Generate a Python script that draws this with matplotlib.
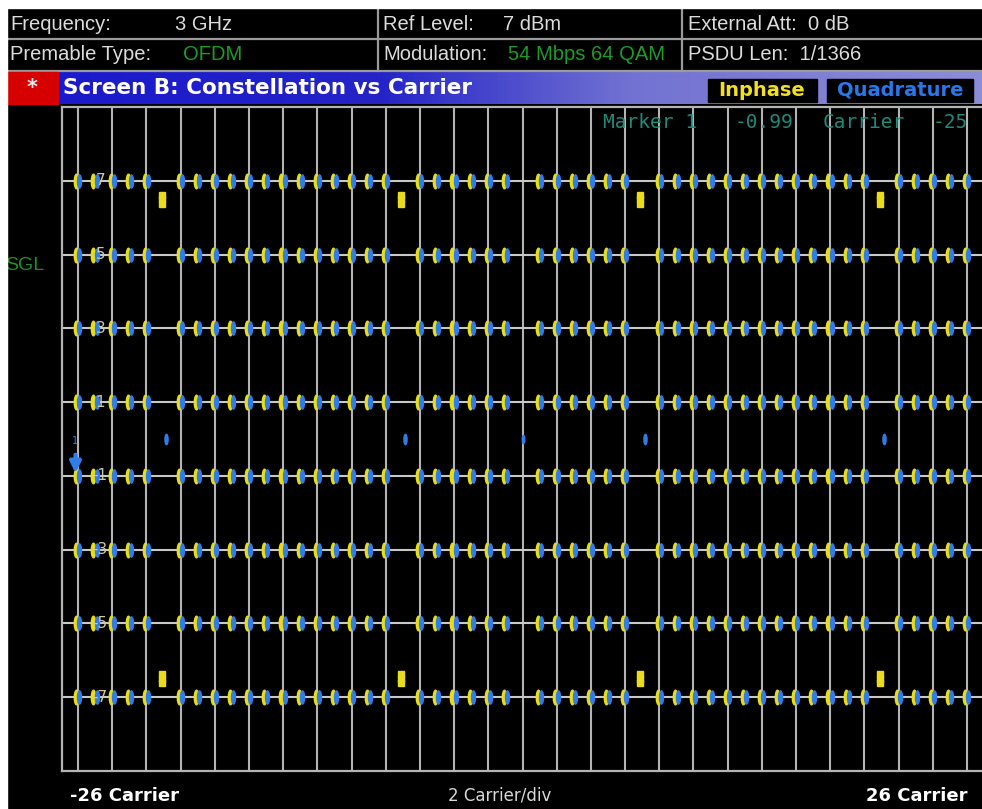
import numpy as np
import matplotlib
matplotlib.use("Agg")
import matplotlib.pyplot as plt
from matplotlib.patches import Rectangle
from matplotlib.lines import Line2D
from matplotlib.path import Path

# chart values
levels = [-7, -5, -3, -1, 1, 3, 5, 7]
level_labels = ["-7", "-5", "-3", "-1", "1", "3", "5", "7"]
pilot_carriers = [-21, -7, 7, 21]
pilot_inphase = [6.5, -6.5]
pilot_quadrature = [0.0]
dc_carrier = [0]
dc_value = [0.0]
data_carriers = [c for c in range(-26, 27) if c != 0 and c not in pilot_carriers]
grid_carriers = list(range(-26, 27, 2))

header_row1 = [("Frequency:", 10, "w"), ("3 GHz", 175, "w"), ("Ref Level:", 383, "w"),
               ("7 dBm", 503, "w"), ("External Att:  0 dB", 688, "w")]
header_row2 = [("Premable Type:", 10, "w"), ("OFDM", 183, "g"), ("Modulation:", 383, "w"),
               ("54 Mbps 64 QAM", 508, "g"), ("PSDU Len:  1/1366", 688, "w")]
marker_text = [("Marker 1", 603), ("-0.99", 735), ("Carrier", 823), ("-25", 933)]

W, H = 982, 809
YELLOW = "#e8dc1c"
BLUE = "#2f7de8"
GRAY = "#b4b4b4"


def fx(x):
    return x / W


def fy(y):
    return 1 - y / H


fig = plt.figure(figsize=(W / 100, H / 100), dpi=100, facecolor="black")

# white frame strips (left and top)
fig.add_artist(Rectangle((0, 0), fx(7), 1, transform=fig.transFigure, color="white", zorder=5))
fig.add_artist(Rectangle((0, fy(8)), 1, 8 / H, transform=fig.transFigure, color="white", zorder=5))

# header lines
for y in [39, 71]:
    fig.add_artist(Line2D([fx(7), 1], [fy(y), fy(y)], transform=fig.transFigure, color="#9a9a9a", lw=1.6))
for x in [378, 682]:
    fig.add_artist(Line2D([fx(x), fx(x)], [fy(8), fy(71)], transform=fig.transFigure, color="#9a9a9a", lw=1.6))

colors = {"w": "#dcdcdc", "g": "#1e9a28"}
for row, yc in [(header_row1, 24), (header_row2, 55)]:
    for txt, x, c in row:
        fig.text(fx(x), fy(yc), txt, color=colors[c], fontsize=14.5, family="Liberation Sans",
                 va="center", ha="left")

# title bar
fig.add_artist(Rectangle((fx(7), fy(104)), fx(58 - 7), 32 / H, transform=fig.transFigure,
                         color="#d60000", zorder=2))
fig.text(fx(32), fy(88), "*", color="#f0e8e8", fontsize=15, fontweight="bold", ha="center", va="center")
grad_ax = fig.add_axes([fx(58), fy(104), 1 - fx(58), 32 / H])
grad_ax.set_axis_off()
cmap = matplotlib.colors.LinearSegmentedColormap.from_list(
    "bar", [(0, "#1a1acc"), (0.35, "#2424c8"), (0.62, "#7272d2"), (1, "#8c8cd8")])
grad_ax.imshow(np.linspace(0, 1, 256)[None, :], aspect="auto", cmap=cmap, extent=[0, 1, 0, 1])
fig.text(fx(63), fy(88), "Screen B: Constellation vs Carrier", color="white", fontsize=15.5,
         fontweight="bold", family="DejaVu Sans", va="center", ha="left", zorder=10)
fig.add_artist(Rectangle((fx(708), fy(102)), fx(817 - 708), 23 / H, transform=fig.transFigure,
                         color="black", zorder=6))
fig.add_artist(Rectangle((fx(827), fy(102)), fx(973 - 827), 23 / H, transform=fig.transFigure,
                         color="black", zorder=6))
fig.text(fx(762), fy(90), "Inphase", color="#f0e020", fontsize=14, fontweight="bold",
         ha="center", va="center", zorder=10)
fig.text(fx(900), fy(90), "Quadrature", color="#2a78e8", fontsize=14, fontweight="bold",
         ha="center", va="center", zorder=10)

# plot area
ax = fig.add_axes([fx(62), fy(771), 1 - fx(62), (771 - 107) / H])
ax.set_facecolor("black")
ax.set_xlim(-26.94, 26.88)
ax.set_ylim(-9, 9)
ax.set_xticks([])
ax.set_yticks([])
for s in ["left", "top", "bottom"]:
    ax.spines[s].set_color(GRAY)
    ax.spines[s].set_linewidth(1.6)
ax.spines["right"].set_visible(False)

for c in grid_carriers:
    ax.axvline(c, color=GRAY, lw=1.5, zorder=1)
for lv in levels:
    ax.axhline(lv, color="#c8c8c8", lw=1.5, zorder=1)

circ = Path.unit_circle()
dash = Path(circ.vertices * [0.3, 1.0], circ.codes)

cx, cy = np.meshgrid(data_carriers, levels)
ax.plot(cx.ravel() - 0.1, cy.ravel(), ls="none", marker=dash, ms=10.5, color=YELLOW, zorder=3)
ax.plot(cx.ravel() + 0.08, cy.ravel(), ls="none", marker=dash, ms=9.5, color=BLUE, zorder=4)

px, py = np.meshgrid(pilot_carriers, pilot_inphase)
ax.plot(px.ravel() - 0.1, py.ravel(), ls="none", marker="s", ms=4, color=YELLOW, zorder=3)
ax.plot(px.ravel() - 0.1, py.ravel() + 0.12, ls="none", marker="s", ms=4, color=YELLOW, zorder=3)
ax.plot(px.ravel() - 0.1, py.ravel() - 0.12, ls="none", marker="s", ms=4, color=YELLOW, zorder=3)
qx, qy = np.meshgrid(pilot_carriers, pilot_quadrature)
ax.plot(qx.ravel() + 0.15, qy.ravel(), ls="none", marker=dash, ms=7.5, color=BLUE, zorder=4)
ax.plot(dc_carrier, dc_value, ls="none", marker=dash, ms=6, color=BLUE, zorder=4)

for lv, lab in zip(levels, level_labels):
    ax.text(-24.7, lv, lab, color="#d0ca9c", fontsize=11, ha="center", va="center", zorder=5)

# marker 1
ax.annotate("", xy=(-26.15, -1.0), xytext=(-26.15, -0.35),
            arrowprops=dict(arrowstyle="-|>", color=BLUE, lw=3, mutation_scale=16), zorder=6)
ax.text(-26.15, -0.05, "1", color=BLUE, fontsize=7, ha="center", va="center", zorder=6)

for txt, x in marker_text:
    fig.text(fx(x), fy(123), txt, color="#23877a", fontsize=14, family="DejaVu Sans Mono",
             ha="left", va="center", zorder=10)

fig.text(fx(5), fy(266), "SGL", color="#1f8f1f", fontsize=14, family="Liberation Sans",
         ha="left", va="center")

# bottom labels
fig.text(fx(70), fy(796), "-26 Carrier", color="white", fontsize=13, fontweight="bold",
         ha="left", va="center")
fig.text(fx(500), fy(796), "2 Carrier/div", color="#d8d8d8", fontsize=12, ha="center", va="center")
fig.text(fx(968), fy(796), "26 Carrier", color="white", fontsize=13, fontweight="bold",
         ha="right", va="center")

fig.savefig("out.png", dpi=100, facecolor="black")
